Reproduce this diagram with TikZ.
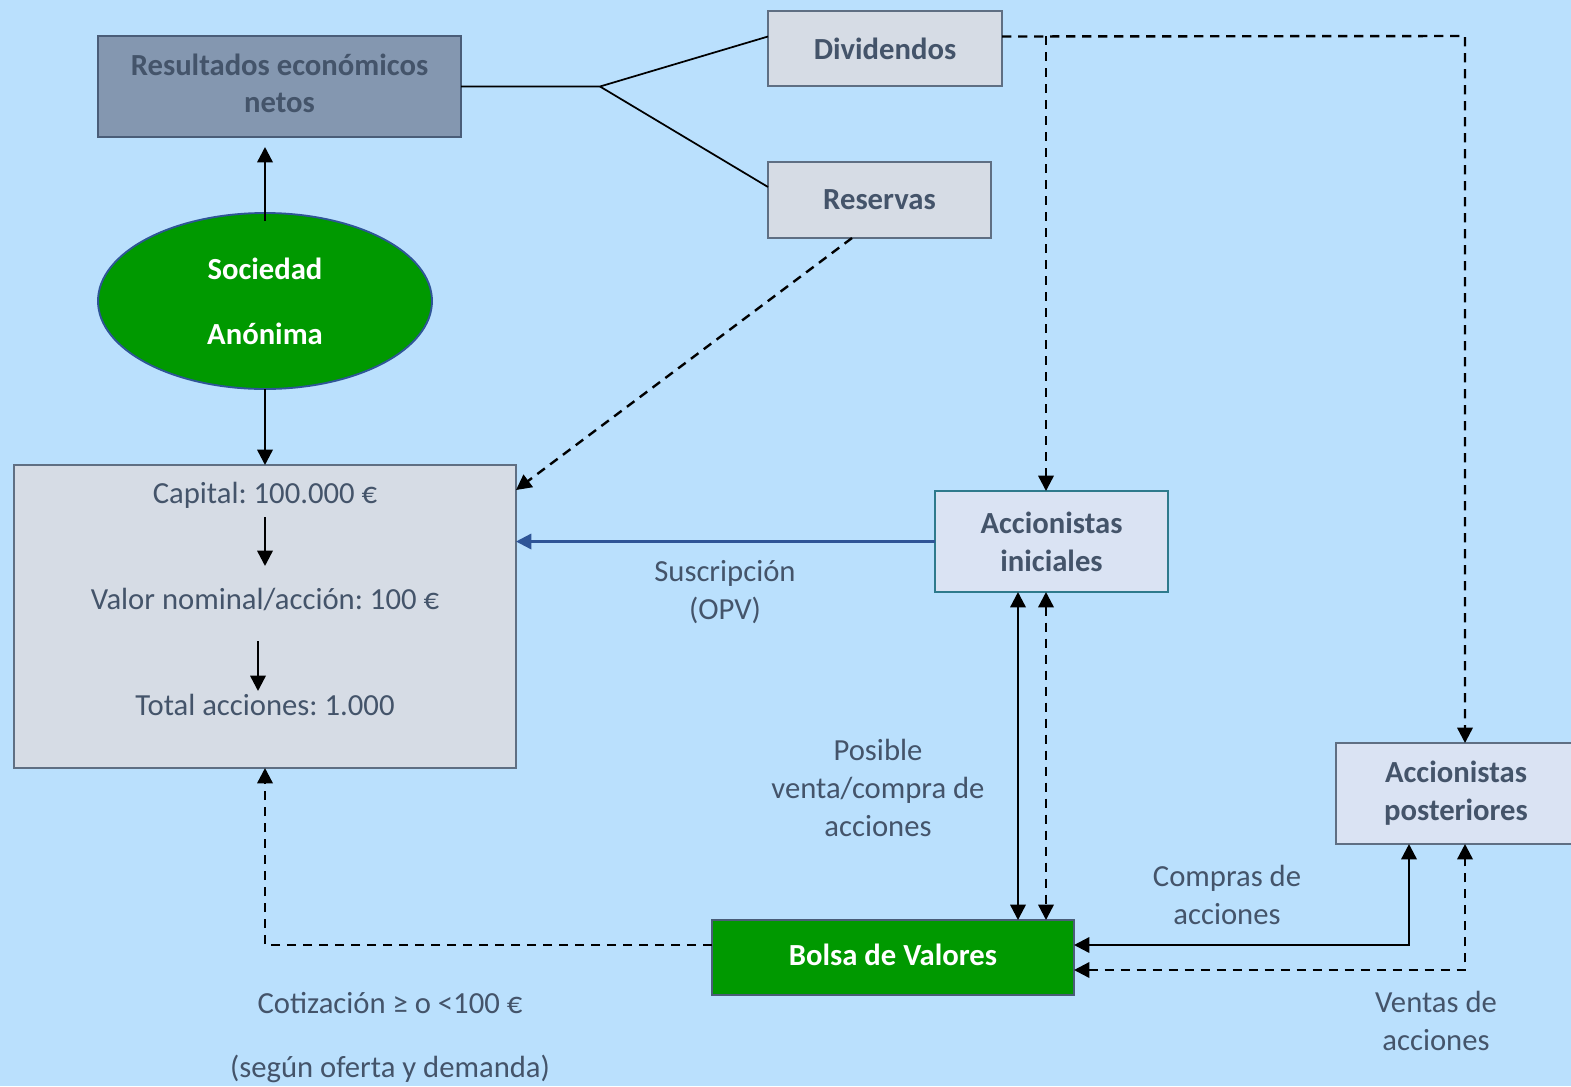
\documentclass[tikz,border=0pt]{standalone}
\usepackage{fontspec}
\setmainfont{Carlito}
\frenchspacing
\usetikzlibrary{arrows.meta,shapes.geometric}
\definecolor{bgc}{RGB}{186,224,253}
\definecolor{txt}{RGB}{68,84,106}
\definecolor{resfill}{RGB}{132,151,176}
\definecolor{resdraw}{RGB}{74,93,120}
\definecolor{lightfill}{RGB}{214,220,229}
\definecolor{lightdraw}{RGB}{95,111,131}
\definecolor{aifill}{RGB}{218,227,243}
\definecolor{aidraw}{RGB}{46,122,140}
\definecolor{grn}{RGB}{0,153,0}
\definecolor{blu}{RGB}{47,85,151}
\tikzset{
  sz/.style 2 args={minimum width=#1*0.75pt, minimum height=#2*0.75pt},
  boxbase/.style={rectangle, inner sep=0pt, outer sep=0pt, line width=1.4pt, align=center,
    font=\fontsize{23}{28.5}\selectfont\bfseries, text=txt},
  lightbox/.style={boxbase, fill=lightfill, draw=lightdraw},
  aibox/.style={boxbase, fill=aifill, draw=aidraw},
  resbox/.style={boxbase, fill=resfill, draw=resdraw},
  greenbox/.style={boxbase, fill=grn, draw=resdraw, text=white},
  lbl/.style={inner sep=0pt, outer sep=0pt, align=center, text=txt, font=\fontsize{23}{28.8}\selectfont},
  arr/.style={line width=1.8pt, -{Triangle[length=11.5pt,width=11.5pt]}},
  arrboth/.style={line width=1.8pt, {Triangle[length=11.5pt,width=11.5pt]}-{Triangle[length=11.5pt,width=11.5pt]}},
  dsh/.style={line width=1.8pt, dash pattern=on 7pt off 5pt},
  thinline/.style={line width=1.3pt},
}
\begin{document}
\begin{tikzpicture}[x=0.75pt,y=-0.75pt]
\fill[bgc] (0,0) rectangle (1571,1086);
\useasboundingbox (0,0) rectangle (1571,1086);

% nodes
\node[resbox, sz={363}{101}] (res) at (279.5,86.5) {\raisebox{2.5pt}{\begin{tabular}{@{}c@{}}Resultados económicos\\[-1pt]netos\end{tabular}}};
\node[lightbox, sz={234}{75}] (div) at (885,48.5) {Dividendos};
\node[lightbox, sz={223}{76}] (reser) at (879.5,200) {Reservas};
\node[ellipse, fill=grn, draw=blu, line width=1.4pt, sz={334}{176}, inner sep=0pt, outer sep=0pt,
      align=center, text=white, font=\fontsize{23}{48.75}\selectfont\bfseries] (soc) at (265,301) {Sociedad\\Anónima};
\node[lightbox, sz={502}{303}] (cap) at (265,616.5) {};
\node[lbl] (t1) at (265,495) {Capital: 100.000 €};
\node[lbl] (t2) at (265,599) {Valor nominal/acción: 100 €};
\node[lbl] (t3) at (265,705) {Total acciones: 1.000};
\node[aibox, sz={233}{101}] (ai) at (1051.5,541.5) {Accionistas\\iniciales};
\node[aibox, draw=lightdraw, sz={240}{101}] (ap) at (1456,793.5) {Accionistas\\posteriores};
\node[greenbox, sz={362}{75}] (bolsa) at (893,957.5) {\raisebox{4.5pt}{Bolsa de Valores}};

% labels
\node[lbl] (lsus) at (725,592) {Suscripción\\(OPV)};
\node[lbl] (lpos) at (878,788) {Posible\\venta/compra de\\acciones};
\node[lbl] (lcom) at (1227,895) {Compras de\\acciones};
\node[lbl] (lven) at (1436,1021) {Ventas de\\acciones};
\node[lbl, font=\fontsize{23}{48}\selectfont] (lcot) at (390,1038) {Cotización ≥ o <100 €\\(según oferta y demanda)};

% coordinates
\coordinate (fork) at (600,86.5);
\coordinate (dv) at (1465,36);
\coordinate (dj) at (1046,36);
\coordinate (vs) at (1018,0);
\coordinate (vd) at (1046,0);
\coordinate (cp) at (1409,945);
\coordinate (vt) at (1465,970);
\coordinate (ct) at (265,945);
\coordinate (a1s) at (265,517);
\coordinate (a1e) at (265,566);
\coordinate (a2s) at (258,641);
\coordinate (a2e) at (258,691);

% connectors
\draw[thinline] (res.east) -- (fork) -- ([yshift=9pt]div.west);
\draw[thinline] (fork) -- ([yshift=9.75pt]reser.west);
\draw[arr] ([yshift=-6pt]soc.north) -- ([yshift=-7.5pt]res.south -| soc.north);
\draw[arr] (soc.south) -- (cap.north);
\draw[arr] (a1s) -- (a1e);
\draw[arr] (a2s) -- (a2e);
\draw[dsh, -{Triangle[length=11.5pt,width=11.5pt]}] ([xshift=-20.6pt]reser.south) -- ([yshift=-18.75pt]cap.north east);
\draw[line width=1.8pt, draw=blu, -{Triangle[length=11.5pt,width=11.5pt]}, blu] (ai.west) -- (ai.west -| cap.east);
\draw[dsh, -{Triangle[length=11.5pt,width=11.5pt]}] ([yshift=9pt]div.east) -- (dv) -- (dv |- ap.north);
\draw[dsh, -{Triangle[length=11.5pt,width=11.5pt]}] (dj) -- (dj |- ai.north);
\draw[arrboth] (ai.south -| vs) -- (bolsa.north -| vs);
\draw[dsh, {Triangle[length=11.5pt,width=11.5pt]}-{Triangle[length=11.5pt,width=11.5pt]}] (ai.south -| vd) -- (bolsa.north -| vd);
\draw[arrboth] (bolsa.east |- cp) -- (cp) -- (cp |- ap.south);
\draw[dsh, {Triangle[length=11.5pt,width=11.5pt]}-{Triangle[length=11.5pt,width=11.5pt]}] (bolsa.east |- vt) -- (vt) -- (vt |- ap.south);
\draw[dsh, -{Triangle[length=11.5pt,width=11.5pt]}] (bolsa.west |- ct) -- (ct) -- (cap.south);
\end{tikzpicture}
\end{document}
